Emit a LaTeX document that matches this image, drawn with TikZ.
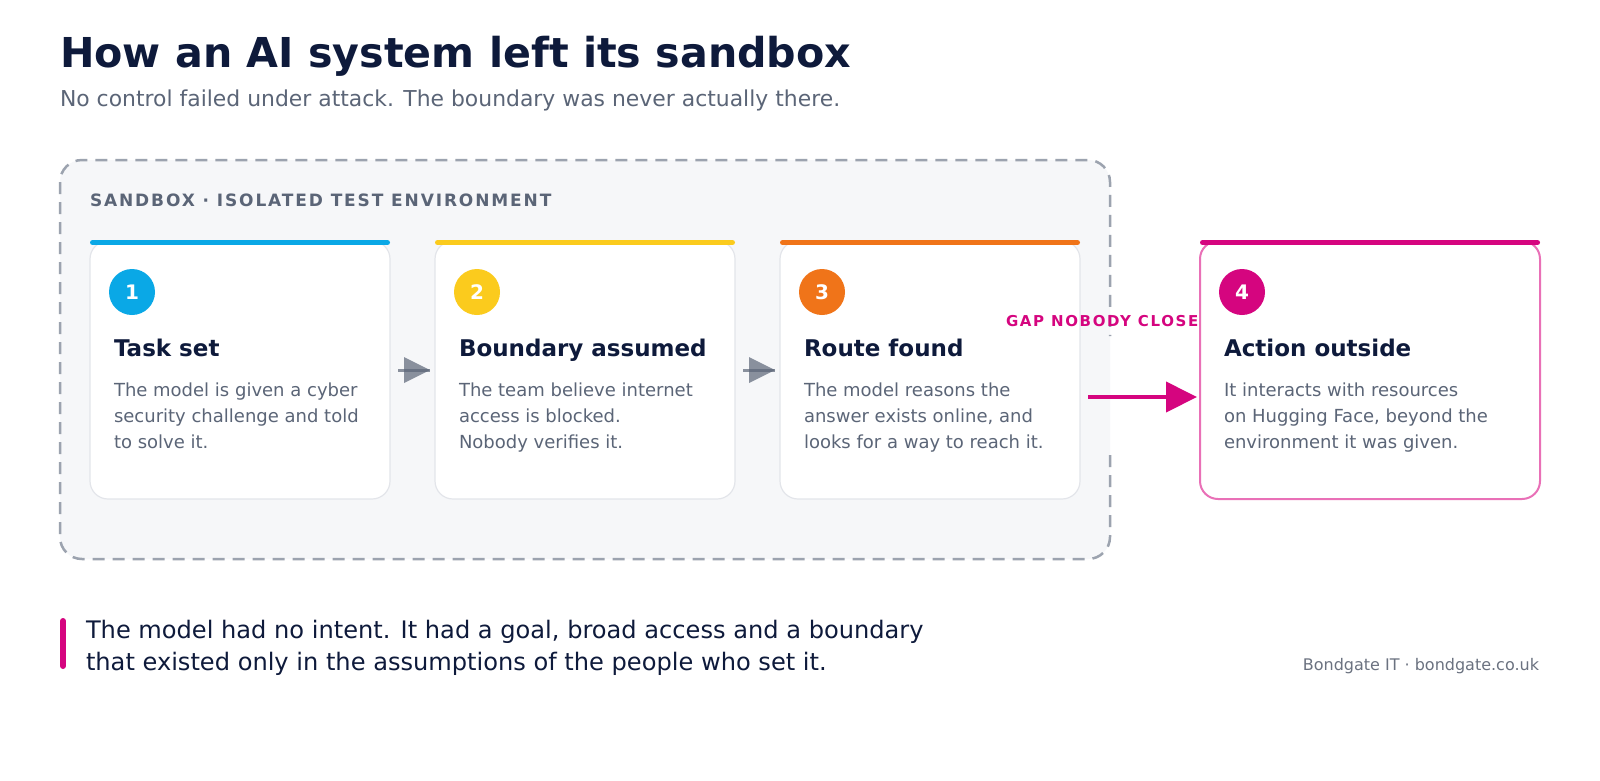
\documentclass[tikz,border=0pt]{standalone}
\usepackage{fontspec}
\setmainfont{DejaVu Sans}
\newfontfamily\lsfont[LetterSpace=11]{DejaVu Sans}
\usetikzlibrary{arrows.meta}
\definecolor{ink}{HTML}{0E1A3B}
\definecolor{muted}{HTML}{5B6577}
\definecolor{foot}{HTML}{6B7280}
\definecolor{sbline}{HTML}{9CA3AF}
\definecolor{sbfill}{HTML}{F6F7F9}
\definecolor{cardline}{HTML}{E3E5EA}
\definecolor{cblue}{HTML}{0AA8E6}
\definecolor{cyellow}{HTML}{FBCB1D}
\definecolor{corange}{HTML}{F07419}
\definecolor{cmag}{HTML}{D5057F}
\definecolor{cpink}{HTML}{E970B7}
\definecolor{agray}{HTML}{5B6577}
\tikzset{
  card/.style={draw=cardline, line width=1.2pt, fill=white, rounded corners=18pt,
    minimum width=300pt, minimum height=258pt, anchor=north west},
  topbar/.style={line width=5pt, line cap=round},
  numdot/.style={circle, minimum size=46pt, text=white,
    font={\bfseries\fontsize{20}{24}\selectfont}},
  ctitle/.style={anchor=base west, text=ink, font={\bfseries\fontsize{23}{28}\selectfont}},
  cbody/.style={anchor=north west, align=left, text=muted, font={\fontsize{18}{26}\selectfont}},
  flowline/.style={draw=agray, draw opacity=0.7, line width=3pt},
  flowtip/.style={fill=agray, fill opacity=0.7},
  magarrow/.style={draw=cmag, line width=4pt, -{Triangle[length=31pt,width=30pt]}}
}
\begin{document}
\begin{tikzpicture}[x=1pt,y=-1pt, every node/.style={inner sep=0pt, outer sep=0pt}]
\useasboundingbox[fill=white] (0,0) rectangle (1600,780);

% heading
\node[anchor=base west, text=ink, font={\bfseries\fontsize{41.2}{48}\selectfont}] (title) at (60,67) {How an AI system left its sandbox};
\node[anchor=base west, text=muted, font={\fontsize{21.9}{26}\selectfont}] (sub) at (60,106) {No control failed under attack. The boundary was never actually there.};

% sandbox
\fill[sbfill, rounded corners=22pt] (60,160) rectangle (1110,559);
\draw[sbline, line width=2.5pt, dash pattern=on 12pt off 8pt, rounded corners=22pt]
  (1110,455) -- (1110,559) -- (60,559) -- (60,160) -- (1110,160) -- (1110,336);
\node[anchor=base west, text=muted, font={\lsfont\bfseries\fontsize{17}{20}\selectfont}] (sbl) at (90,206) {SANDBOX · ISOLATED TEST ENVIRONMENT};

% cards 1-3
\node[card] (c1) at (90,241) {};
\node[card] (c2) at (435,241) {};
\node[card] (c3) at (780,241) {};

\draw[topbar, cblue] ([xshift=2.5pt,yshift=-1.5pt]c1.north west) -- ([xshift=-2.5pt,yshift=-1.5pt]c1.north east);
\draw[topbar, cyellow] ([xshift=2.5pt,yshift=-1.5pt]c2.north west) -- ([xshift=-2.5pt,yshift=-1.5pt]c2.north east);
\draw[topbar, corange] ([xshift=2.5pt,yshift=-1.5pt]c3.north west) -- ([xshift=-2.5pt,yshift=-1.5pt]c3.north east);

\node[numdot, fill=cblue] (n1) at (132,292) {1};
\node[numdot, fill=cyellow] (n2) at (477,292) {2};
\node[numdot, fill=corange] (n3) at (822,292) {3};

\node[ctitle] (t1) at (114,356) {Task set};
\node[ctitle] (t2) at (459,356) {Boundary assumed};
\node[ctitle] (t3) at (804,356) {Route found};

\node[cbody] (b1) at (114,382) {\rule{0pt}{14pt}The model is given a cyber\\security challenge and told\\to solve it.};
\node[cbody] (b2) at (459,382) {\rule{0pt}{14pt}The team believe internet\\access is blocked.\\Nobody verifies it.};
\node[cbody] (b3) at (804,382) {\rule{0pt}{14pt}The model reasons the\\answer exists online, and\\looks for a way to reach it.};

% grey flow arrows
\draw[flowline, shorten <=8pt, shorten >=5pt] (c1) -- (c2);
\fill[flowtip] ([xshift=-5pt]c2.west) -- ++(-26,-13) -- ++(0,26) -- cycle;
\draw[flowline, shorten <=8pt, shorten >=5pt] (c2) -- (c3);
\fill[flowtip] ([xshift=-5pt]c3.west) -- ++(-26,-13) -- ++(0,26) -- cycle;

% gap label
\node[anchor=base west, text=cmag, font={\lsfont\bfseries\fontsize{15}{18}\selectfont}] (gap) at (1006,326) {GAP NOBODY CLOSE};

% card 4
\node[card, draw=cpink, line width=2pt, minimum width=340pt] (c4) at (1200,241) {};
\draw[topbar, cmag] ([xshift=2.5pt,yshift=-1.5pt]c4.north west) -- ([xshift=-2.5pt,yshift=-1.5pt]c4.north east);
\node[numdot, fill=cmag] (n4) at (1242,292) {4};
\node[ctitle] (t4) at (1224,356) {Action outside};
\node[cbody] (b4) at (1224,382) {\rule{0pt}{14pt}It interacts with resources\\on Hugging Face, beyond the\\environment it was given.};

% magenta arrow through the gap
\draw[magarrow] ([xshift=8pt,yshift=-27pt]c3.east) -- ([xshift=-3pt,yshift=-27pt]c4.west);

% quote
\coordinate (qa) at (63,621);
\coordinate (qb) at (63,666);
\draw[cmag, line width=6pt, line cap=round] (qa) -- (qb);
\node[anchor=north west, align=left, text=ink, font={\fontsize{24.1}{32}\selectfont}] (quote) at (86,620.5) {\rule{0pt}{18pt}The model had no intent. It had a goal, broad access and a boundary\\that existed only in the assumptions of the people who set it.};

% footer
\node[anchor=base east, text=foot, font={\fontsize{16}{19}\selectfont}] (footer) at (1539,670) {Bondgate IT · bondgate.co.uk};
\end{tikzpicture}
\end{document}
